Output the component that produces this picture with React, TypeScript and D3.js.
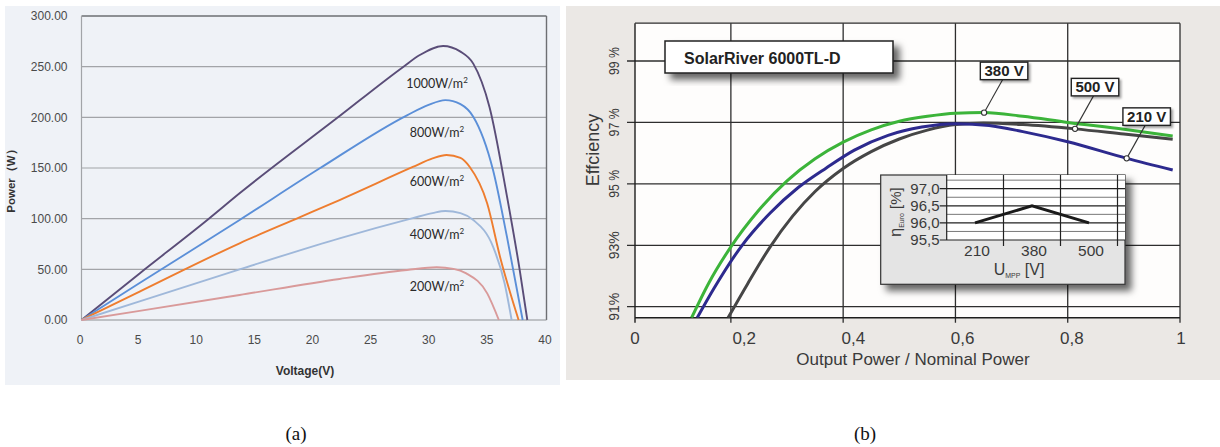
import React from 'react';
import * as d3 from 'd3';

// ---------- (a) P–V curves of a PV module, [voltage V, power W] ----------
const pv1000: [number, number][] = [[0, 0], [5, 46], [10.9, 99.4], [13.6, 125], [21.95, 199], [27.7, 250], [29.1, 261.5], [31.1, 270.4], [32.6, 264.8], [33.7, 253], [35.1, 210], [36.6, 122], [37.7, 49], [38.35, 0]];
const pv800: [number, number][] = [[0, 0], [5, 36.5], [13.6, 98.7], [20.5, 149.7], [28, 202], [29.8, 212], [31.3, 217], [32.6, 213], [33.7, 200.6], [35.4, 148], [36.6, 82], [37.95, 0]];
const pv600: [number, number][] = [[0, 0], [5, 28], [13.6, 75.7], [18.8, 101.5], [22.2, 118.4], [28.5, 151], [30.2, 159.5], [31.4, 162.8], [32.6, 160], [33.4, 151], [34.9, 115], [36, 62.5], [37.6, 0]];
const pv400: [number, number][] = [[0, 0], [5, 18.4], [13.6, 50], [22.2, 80.6], [28.5, 100.5], [30.2, 105.5], [31.3, 107.6], [32.6, 105.5], [33.7, 98.7], [35.4, 72.4], [36.4, 36], [37, 0]];
const pv200: [number, number][] = [[0, 0], [5, 9], [13.6, 24.7], [22.2, 40.5], [28, 49.3], [30.55, 52], [32, 50.5], [33.1, 46], [34.9, 26.3], [35.9, 0]];

const irradiance = ['1000', '800', '600', '400', '200'];
const pvColors = ['#5a4d78', '#5b8fd8', '#ee7d2f', '#9fb8da', '#d99a9a'];
const voltageTicks = [0, 5, 10, 15, 20, 25, 30, 35, 40];
const powerTicks = [0, 50, 100, 150, 200, 250, 300];

// ---------- (b) inverter efficiency vs. load, [P/Pn, efficiency %] ----------
const eff380: [number, number][] = [[0.13, 90.64], [0.16, 91.75], [0.2, 92.95], [0.25, 94.15], [0.3, 95.1], [0.35, 95.82], [0.4, 96.36], [0.45, 96.76], [0.5, 97.04], [0.55, 97.2], [0.6, 97.3], [0.65, 97.32], [0.72, 97.2], [0.8, 97.0], [0.9, 96.78], [0.987, 96.56]];
const eff500: [number, number][] = [[0.195, 90.64], [0.23, 91.75], [0.27, 92.95], [0.31, 93.95], [0.35, 94.75], [0.4, 95.5], [0.45, 96.05], [0.5, 96.46], [0.55, 96.75], [0.6, 96.93], [0.65, 96.98], [0.72, 96.93], [0.813, 96.79], [0.9, 96.62], [0.987, 96.45]];
const eff210: [number, number][] = [[0.14, 90.64], [0.17, 91.6], [0.22, 93.0], [0.27, 94.05], [0.32, 94.88], [0.37, 95.52], [0.42, 96.1], [0.48, 96.58], [0.54, 96.85], [0.6, 96.96], [0.66, 96.9], [0.72, 96.7], [0.8, 96.37], [0.905, 95.83], [0.987, 95.45]];

const mppVoltages = ['380 V', '500 V', '210 V'];
const mppColors = ['#3cb43a', '#464646', '#2d2a8e'];
// load fraction where each curve is tagged
const tagLoads = [0.651, 0.813, 0.905];

const loadTicks = [0, 0.2, 0.4, 0.6, 0.8, 1];
const loadTickLabels = ['0', '0,2', '0,4', '0,6', '0,8', '1'];
const effTicks = [99, 97, 95, 93, 91];
const effTickLabels = ['99 %', '97 %', '95 %', '93%', '91%'];

// Euro efficiency per MPP voltage (inset)
const euroVoltages = ['210', '380', '500'];
const euroEff = [96.0, 96.5, 96.0];
const euroTicks = [97.0, 96.5, 96.0, 95.5];
const euroTickLabels = ['97,0', '96,5', '96,0', '95,5'];

function valueAt(series: [number, number][], x: number) {
  for (let i = 1; i < series.length; i++) {
    const [x0, y0] = series[i - 1];
    const [x1, y1] = series[i];
    if (x >= x0 && x <= x1) return y0 + ((y1 - y0) * (x - x0)) / (x1 - x0);
  }
  return series[series.length - 1][1];
}

export default function App() {
  // ----- panel (a) -----
  const xL = d3.scaleLinear().domain([0, 40]).range([81.5, 546.5]);
  const yL = d3.scaleLinear().domain([0, 300]).range([320, 16]);
  const lineL = d3.line<[number, number]>().x(d => xL(d[0])).y(d => yL(d[1])).curve(d3.curveMonotoneX);
  const pvSeries = [pv1000, pv800, pv600, pv400, pv200];
  const labelPower = [229, 181, 132, 80, 29];

  // ----- panel (b) -----
  const xR = d3.scaleLinear().domain([0, 1]).range([618.6, 1180]);
  const xRLabel = d3.scaleLinear().domain([0, 1]).range([635, 1181]);
  const yR = d3.scaleLinear().domain([91, 99]).range([306.7, 61]);
  const plotLeft = xRLabel(0);
  const plotRight = xR(1);
  const plotTop = yR(100.23);
  const plotBottom = yR(90.64);
  const lineR = d3.line<[number, number]>().x(d => xR(d[0])).y(d => yR(d[1])).curve(d3.curveMonotoneX);
  const effSeries = [eff380, eff500, eff210];

  // inset
  const insetBox = { x: 880.7, y: 175, w: 244.3, h: 109.3 };
  const insetPlotLeft = 946.7;
  const xIn = d3.scalePoint<string>().domain(euroVoltages).range([975, 1089]);
  const stepIn = xIn.step();
  const yIn = d3.scaleLinear().domain([95.5, 97.0]).range([240, 188.7]);
  const insetLine = d3.line<number>().x((_, i) => xIn(euroVoltages[i])!).y(d => yIn(d));
  const minorIn = [95.75, 96.25, 96.75, 97.25];

  const sans = 'Liberation Sans, Arial, sans-serif';
  const serif = "'Liberation Serif', 'Times New Roman', serif";

  return (
    <svg width={1220} height={447} style={{ position: 'absolute', left: 0, top: 0 }} fontFamily={sans}>
      <defs>
        <filter id="boxShadow" x="-20%" y="-30%" width="150%" height="170%">
          <feDropShadow dx="6" dy="6" stdDeviation="3.5" floodColor="#000" floodOpacity="0.6" />
        </filter>
        <filter id="tagShadow" x="-20%" y="-30%" width="150%" height="170%">
          <feDropShadow dx="2" dy="2" stdDeviation="1" floodColor="#000" floodOpacity="0.35" />
        </filter>
        <clipPath id="plotR">
          <rect x={plotLeft} y={plotTop} width={plotRight - plotLeft} height={plotBottom - plotTop} />
        </clipPath>
      </defs>
      <rect width={1220} height={447} fill="#fff" />

      {/* ================= (a) ================= */}
      <rect x={5} y={6} width={555} height={379} fill="#eff2f7" />
      {powerTicks.map(t => (
        <g key={t}>
          {t > 0 && t < 300 && <line x1={xL(0)} x2={xL(40)} y1={yL(t)} y2={yL(t)} stroke="#a2a4a8" strokeWidth={1.2} />}
          <text x={67.5} y={yL(t) + 4.3} textAnchor="end" fontSize={12} fill="#4a4a4a">{t.toFixed(2)}</text>
        </g>
      ))}
      <line x1={xL(0)} x2={xL(40)} y1={yL(300)} y2={yL(300)} stroke="#6d6f73" strokeWidth={1.4} />
      <line x1={xL(40)} x2={xL(40)} y1={yL(300)} y2={yL(0)} stroke="#6d6f73" strokeWidth={1.4} />
      <line x1={xL(0)} x2={xL(0)} y1={yL(300)} y2={yL(0)} stroke="#a2a4a8" strokeWidth={1.2} />
      <line x1={xL(0)} x2={xL(40)} y1={yL(0)} y2={yL(0)} stroke="#8e9094" strokeWidth={1.2} />
      {voltageTicks.map(t => (
        <text key={t} x={xL(t) - 1.5} y={344} textAnchor="middle" fontSize={12} fill="#4a4a4a">{t}</text>
      ))}
      {pvSeries.map((s, i) => (
        <path key={i} d={lineL(s) || ''} fill="none" stroke={pvColors[i]} strokeWidth={1.9} />
      ))}
      {irradiance.map((g, i) => (
        <text key={g} x={437} y={yL(labelPower[i])} textAnchor="middle" fontSize={12.5} fill="#2a2a2a" fontFamily="Lato, 'Open Sans', sans-serif">
          {g}W/m<tspan fontSize={8} dy={-5}>2</tspan>
        </text>
      ))}
      <text transform="translate(15,178) rotate(-90)" textAnchor="middle" fontSize={11.5} fontWeight="bold" fill="#333">Power（W）</text>
      <text x={305} y={375} textAnchor="middle" fontSize={12} fontWeight="bold" fill="#333">Voltage(V)</text>

      {/* ================= (b) ================= */}
      <rect x={566} y={6} width={654} height={374} fill="#ebe8e5" />
      <rect x={plotLeft} y={plotTop} width={plotRight - plotLeft} height={plotBottom - plotTop} fill="#fefdfc" />
      {/* horizontal grid + y ticks */}
      {effTicks.map((t, i) => (
        <g key={t}>
          <line x1={plotLeft - 8} x2={plotRight} y1={yR(t)} y2={yR(t)} stroke="#2e2e2e" strokeWidth={1.3} />
          <text transform={`translate(618.5,${yR(t)}) rotate(-90)`} textAnchor="middle" fontSize={15} fill="#3a3a3a" textLength={28} lengthAdjust="spacingAndGlyphs">{effTickLabels[i]}</text>
        </g>
      ))}
      {/* vertical grid + x ticks */}
      {loadTicks.slice(1).map(t => (
        <line key={t} x1={xR(t)} x2={xR(t)} y1={plotTop} y2={plotBottom + 5} stroke="#2e2e2e" strokeWidth={1.3} />
      ))}
      <line x1={plotLeft} x2={plotLeft} y1={plotTop} y2={plotBottom + 5} stroke="#1e1e1e" strokeWidth={1.4} />
      <line x1={plotLeft} x2={plotRight} y1={plotTop} y2={plotTop} stroke="#2e2e2e" strokeWidth={1.3} />
      <line x1={plotLeft} x2={plotRight} y1={plotBottom} y2={plotBottom} stroke="#1e1e1e" strokeWidth={1.4} />
      {loadTicks.map((t, i) => (
        <text key={t} x={xRLabel(t)} y={344} textAnchor="middle" fontSize={17} fill="#3a3a3a">{loadTickLabels[i]}</text>
      ))}
      <text transform="translate(598.5,150) rotate(-90)" textAnchor="middle" fontSize={18} fill="#3a3a3a">Effciency</text>
      <text x={913} y={365} textAnchor="middle" fontSize={17} fill="#3a3a3a">Output Power / Nominal Power</text>

      {/* efficiency curves */}
      <g clipPath="url(#plotR)">
        {effSeries.map((s, i) => (
          <path key={i} d={lineR(s) || ''} fill="none" stroke={mppColors[i]} strokeWidth={3} strokeLinejoin="round" />
        ))}
      </g>

      {/* curve tags */}
      {mppVoltages.map((v, i) => {
        const cx = xR(tagLoads[i]);
        const cy = yR(valueAt(effSeries[i], tagLoads[i]));
        const bw = 47.5;
        const bh = 17.5;
        const bx = cx + 20 - bw / 2;
        const by = cy - 33 - bh;
        return (
          <g key={v}>
            <line x1={cx + 18.5} y1={cy - 33} x2={cx} y2={cy} stroke="#333" strokeWidth={1.1} />
            <circle cx={cx} cy={cy} r={2.6} fill="#fff" stroke="#333" strokeWidth={1.1} />
            <rect x={bx} y={by} width={bw} height={bh} fill="#fff" stroke="#222" strokeWidth={1.4} filter="url(#tagShadow)" />
            <text x={bx + bw / 2} y={by + 14} textAnchor="middle" fontSize={15} fontWeight="bold" fill="#222">{v}</text>
          </g>
        );
      })}

      {/* title box */}
      <rect x={665} y={41} width={228} height={32} fill="#fff" stroke="#222" strokeWidth={1.5} filter="url(#boxShadow)" />
      <text x={684} y={64} fontSize={16} fontWeight="bold" fill="#222">SolarRiver 6000TL-D</text>

      {/* inset: Euro efficiency */}
      <rect x={insetBox.x} y={insetBox.y} width={insetBox.w} height={insetBox.h} fill="#e4e4e4" stroke="#333" strokeWidth={1.2} filter="url(#boxShadow)" />
      <rect x={insetPlotLeft} y={insetBox.y} width={insetBox.x + insetBox.w - insetPlotLeft} height={yIn(95.5) - insetBox.y} fill="#fff" />
      {minorIn.map(t => (
        <line key={t} x1={insetPlotLeft} x2={insetBox.x + insetBox.w} y1={yIn(t)} y2={yIn(t)} stroke="#555" strokeWidth={0.8} />
      ))}
      {euroTicks.map((t, i) => (
        <g key={t}>
          <line x1={insetPlotLeft - 7} x2={insetBox.x + insetBox.w} y1={yIn(t)} y2={yIn(t)} stroke="#222" strokeWidth={1.2} />
          <text x={939.5} y={yIn(t) + 5} textAnchor="end" fontSize={15} fill="#3a3a3a">{euroTickLabels[i]}</text>
        </g>
      ))}
      {euroVoltages.map(v => (
        <g key={v}>
          <line x1={xIn(v)! + stepIn / 2} x2={xIn(v)! + stepIn / 2} y1={insetBox.y} y2={yIn(95.5) + 6} stroke="#222" strokeWidth={1.2} />
          <text x={xIn(v)! + 2} y={256} textAnchor="middle" fontSize={15.5} fill="#3a3a3a">{v}</text>
        </g>
      ))}
      <line x1={insetPlotLeft} x2={insetPlotLeft} y1={insetBox.y} y2={yIn(95.5)} stroke="#222" strokeWidth={1.2} />
      <path d={insetLine(euroEff) || ''} fill="none" stroke="#1a1a1a" strokeWidth={3} />
      <text transform="translate(901,212) rotate(-90)" textAnchor="middle" fontSize={16} fill="#3a3a3a">
        η<tspan fontSize={7} dy={3}>Euro</tspan><tspan dy={-3} fontSize={15}> [%]</tspan>
      </text>
      <text x={1019} y={275} textAnchor="middle" fontSize={16} fill="#3a3a3a">
        U<tspan fontSize={7} dy={3}>MPP</tspan><tspan dy={-3}> [V]</tspan>
      </text>

      {/* captions */}
      <text x={296} y={440} textAnchor="middle" fontSize={19} fontFamily={serif} fill="#111">(a)</text>
      <text x={865} y={440} textAnchor="middle" fontSize={19} fontFamily={serif} fill="#111">(b)</text>
    </svg>
  );
}
